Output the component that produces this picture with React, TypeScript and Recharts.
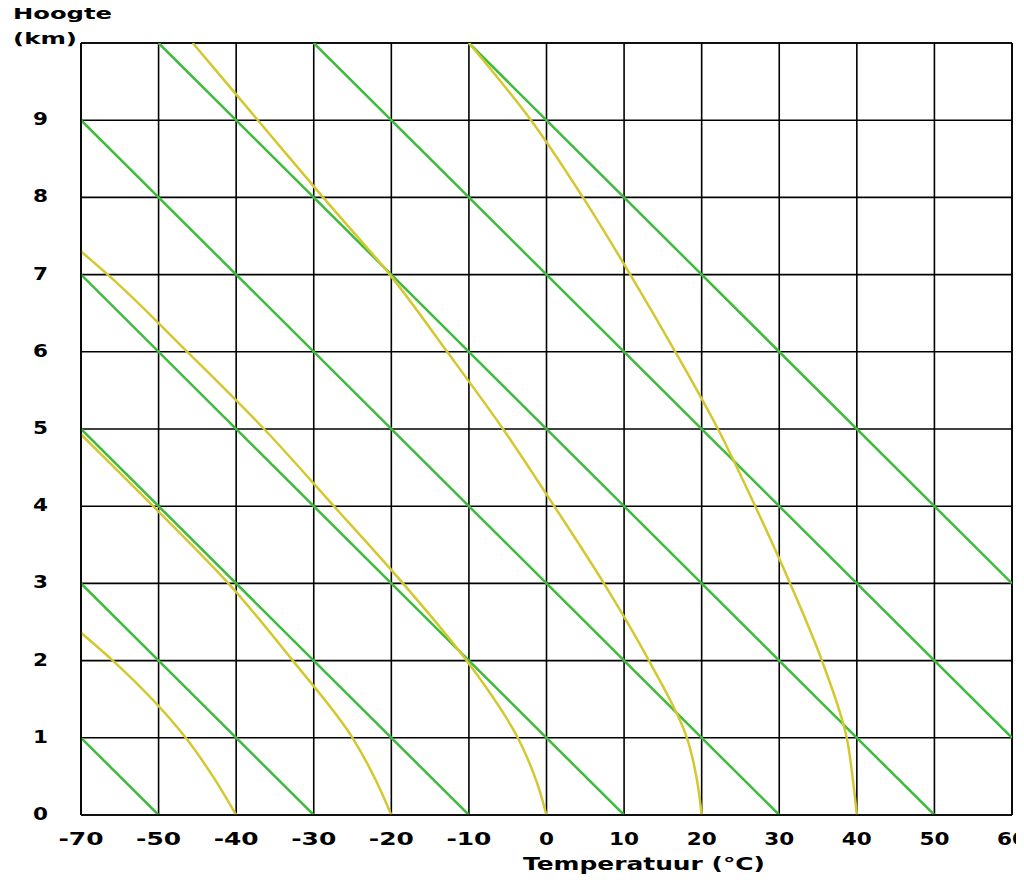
import { CartesianGrid, Label, Line, LineChart, ReferenceLine, XAxis, YAxis } from "recharts";

// tick labels (x axis is one column per label, first column spans 20 degrees)
const xTickLabels = ["-70", "-50", "-40", "-30", "-20", "-10", "0", "10", "20", "30", "40", "50", "60"];
const yTickLabels = ["0", "1", "2", "3", "4", "5", "6", "7", "8", "9"];

// dry adiabats: [T start, km start, T end, km end]
const dryLines: number[][] = [
  [-70, 1, -50, 0],
  [-70, 3, -30, 0],
  [-70, 5, -10, 0],
  [-70, 7, 10, 0],
  [-70, 9, 30, 0],
  [-50, 10, 50, 0],
  [-30, 10, 60, 1],
  [-10, 10, 60, 3],
];

// moist adiabats: [T (°C), height (km)]
const moistMinus40 = [[-70, 2.36], [-61.8, 2.0], [-46.5, 1.0], [-43, 0.5], [-40, 0]];
const moistMinus20 = [[-70, 4.93], [-51.4, 4.0], [-41, 3.0], [-32.7, 2.0], [-25, 1.0], [-22, 0.45], [-20, 0]];
const moist0 = [
  [-70, 7.3], [-63.1, 7.0], [-46.3, 6.0], [-36.4, 5.0], [-27.4, 4.0],
  [-18.5, 3.0], [-10.3, 2.0], [-3.7, 1.0], [-1.2, 0.41], [0, 0],
];
const moist20 = [
  [-45.6, 10], [-37.2, 9], [-28.8, 8], [-20.2, 7], [-12.8, 6], [-5.6, 5],
  [1.0, 4.0], [7.4, 3.0], [13.2, 2.0], [18.1, 1.0], [19.4, 0.45], [20, 0],
];
const moist40 = [
  [-10, 10], [-2.0, 9], [4.7, 8], [10.8, 7], [16.6, 6], [22.1, 5],
  [26.9, 4], [31.4, 3], [35.5, 2], [38.7, 1], [39.5, 0.45], [40, 0],
];

const GREEN = "#3dbb3d";
const YELLOW = "#d4c830";
const FONT = "'DejaVu Sans', sans-serif";

// temperature -> column index on the x axis
const toCol = (t: number) => (t <= -50 ? (t + 70) / 20 : (t + 60) / 10);
const toData = (pts: number[][]) =>
  pts.map(([t, km]) => ({ x: toCol(t), y: km })).sort((a, b) => b.y - a.y);

const XTick = (props: any) => {
  const { x, y, payload } = props;
  const label = xTickLabels[payload.value] ?? "";
  return (
    <text
      x={x}
      y={y + 30}
      textAnchor="middle"
      fontSize={17}
      fontFamily={FONT}
      fontWeight="bold"
      textLength={label.length * 15}
      lengthAdjust="spacingAndGlyphs"
      fill="#000"
    >
      {label}
    </text>
  );
};

const YTick = (props: any) => {
  const { x, y, payload } = props;
  const label = yTickLabels[payload.value];
  if (label == null) return null;
  return (
    <text
      x={x - 40.5}
      y={y + 5}
      textAnchor="middle"
      fontSize={17}
      fontFamily={FONT}
      fontWeight="bold"
      textLength={15}
      lengthAdjust="spacingAndGlyphs"
      fill="#000"
    >
      {label}
    </text>
  );
};

const YTitle = () => (
  <g fontFamily={FONT} fontWeight="bold" fill="#000">
    <text x={13} y={19} fontSize={16} textLength={99} lengthAdjust="spacingAndGlyphs">
      Hoogte
    </text>
    <text x={13} y={44} fontSize={16} textLength={64} lengthAdjust="spacingAndGlyphs">
      (km)
    </text>
  </g>
);

const XTitle = () => (
  <text
    x={523}
    y={870}
    fontSize={17}
    fontFamily={FONT}
    fontWeight="bold"
    textLength={242}
    lengthAdjust="spacingAndGlyphs"
    fill="#000"
  >
    Temperatuur (°C)
  </text>
);

export default function App() {
  const moist = [moistMinus40, moistMinus20, moist0, moist20, moist40];
  return (
    <div style={{ margin: "-8px 0 0 -8px", width: 1024, height: 886 }}>
      <LineChart
        layout="vertical"
        width={1024}
        height={886}
        margin={{ top: 43, right: 12, bottom: 0, left: 0 }}
      >
        <CartesianGrid stroke="#000" strokeWidth={1.6} />
        <XAxis
          type="number"
          dataKey="x"
          domain={[0, 12]}
          ticks={[0, 1, 2, 3, 4, 5, 6, 7, 8, 9, 10, 11, 12]}
          allowDataOverflow
          height={71}
          tickSize={0}
          tickMargin={0}
          tick={<XTick />}
          axisLine={{ stroke: "#000", strokeWidth: 1.6 }}
        >
          <Label content={<XTitle />} />
        </XAxis>
        <YAxis
          type="number"
          dataKey="y"
          domain={[0, 10]}
          reversed
          ticks={[0, 1, 2, 3, 4, 5, 6, 7, 8, 9, 10]}
          allowDataOverflow
          width={81}
          tickSize={0}
          tickMargin={0}
          tick={<YTick />}
          axisLine={{ stroke: "#000", strokeWidth: 1.6 }}
        >
          <Label content={<YTitle />} />
        </YAxis>
        <ReferenceLine y={10} stroke="#000" strokeWidth={1.6} />
        <ReferenceLine x={12} stroke="#000" strokeWidth={1.6} />
        {dryLines.map(([t1, k1, t2, k2], i) => (
          <Line
            key={`dry${i}`}
            data={toData([[t1, k1], [t2, k2]])}
            dataKey="x"
            type="linear"
            stroke={GREEN}
            strokeWidth={2.5}
            dot={false}
            activeDot={false}
            isAnimationActive={false}
          />
        ))}
        {moist.map((pts, i) => (
          <Line
            key={`moist${i}`}
            data={toData(pts)}
            dataKey="x"
            type="monotone"
            stroke={YELLOW}
            strokeWidth={2.5}
            dot={false}
            activeDot={false}
            isAnimationActive={false}
          />
        ))}
      </LineChart>
    </div>
  );
}
